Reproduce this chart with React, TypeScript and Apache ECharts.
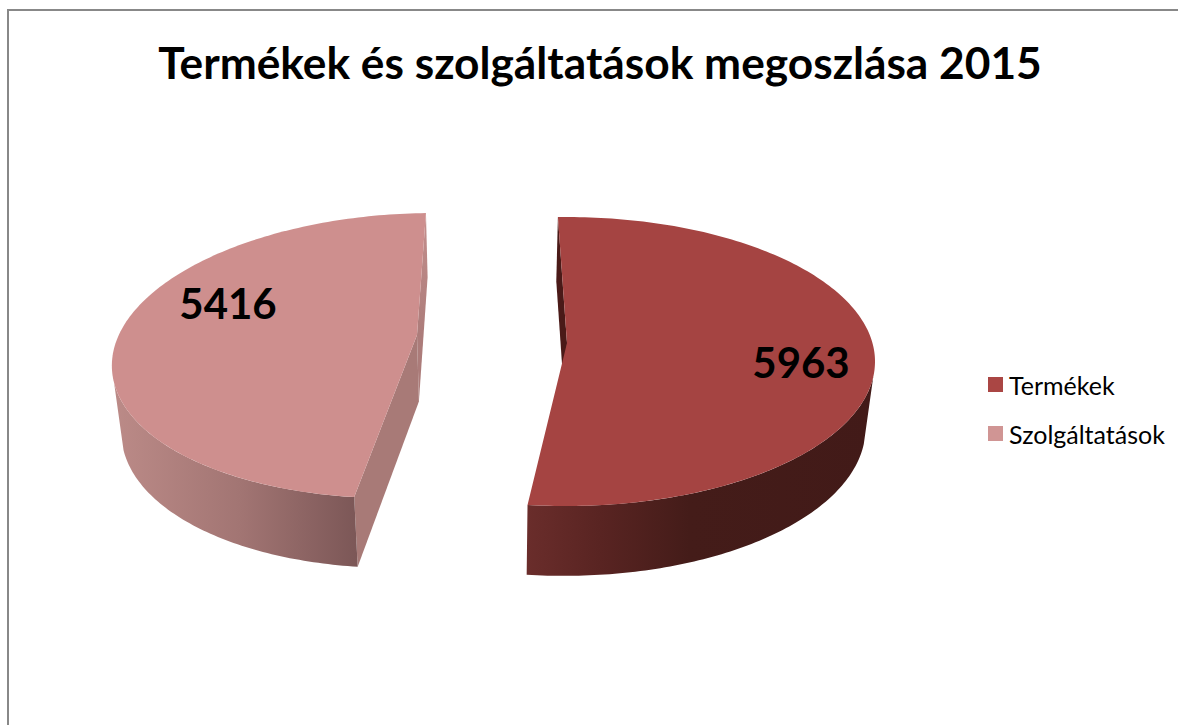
import React, { useEffect, useRef } from "react";
import * as echarts from "echarts";

const titleText = "Termékek és szolgáltatások megoszlása 2015";
const categories = ["Termékek", "Szolgáltatások"];
const values = [5963, 5416];
const legendColors = ["#AA4644", "#D09594"];
const firstAngle = -1.5;

const FONT = "Lato";
const VANISH_X = 493;
type Pt = [number, number];

const lower = ([x, y]: Pt): Pt => [VANISH_X + (x - VANISH_X) * 0.975, y + 64 + (y - 213) * 0.02];

const shapes = [
  {
    cx: 566, cy: 361.5, rx: 309, ry: 144.5, skew: 0, apex: [567, 343] as Pt,
    top: "#A54442", label: [801, 362] as Pt,
    wall: [[527, "#6A2D2B"], [600, "#592422"], [690, "#441C19"], [875, "#421A18"]] as [number, string][],
  },
  {
    cx: 412.6, cy: 355.6, rx: 300, ry: 142.6, skew: 21.2, apex: [417, 335] as Pt,
    top: "#CE8F8E", label: [228, 303] as Pt,
    wall: [[111, "#BC8B88"], [240, "#A27573"], [356, "#7C5757"]] as [number, string][],
  },
];

function sliceAngles(i: number): [number, number] {
  const total = values.reduce((a, b) => a + b, 0);
  let a = firstAngle;
  for (let k = 0; k < i; k++) a += (values[k] / total) * 360;
  return [a, a + (values[i] / total) * 360];
}

function renderSlice(params: any, api: any) {
  const i = params.seriesIndex as number;
  const s = shapes[i];
  const [a0, a1] = sliceAngles(i);
  const rim = (deg: number): Pt => {
    const t = (deg * Math.PI) / 180;
    return [s.cx + s.rx * Math.sin(t) + s.skew * Math.cos(t), s.cy - s.ry * Math.cos(t)];
  };
  const arc = (from: number, to: number): Pt[] => {
    const n = Math.ceil(Math.abs(to - from));
    const out: Pt[] = [];
    for (let k = 0; k <= n; k++) out.push(rim(from + ((to - from) * k) / n));
    return out;
  };
  const x0 = s.wall[0][0];
  const x1 = s.wall[s.wall.length - 1][0];
  const grad = new echarts.graphic.LinearGradient(
    x0, 0, x1, 0,
    s.wall.map(([x, color]) => ({ offset: (x - x0) / (x1 - x0), color })),
    true,
  );
  const children: any[] = [];
  const poly = (points: Pt[], fill: any) =>
    children.push({ type: "polygon", shape: { points }, style: { fill }, silent: true });

  if (i === 0) {
    const p0 = rim(a0);
    poly([p0, s.apex, lower(s.apex), lower(p0)], "#4A1A18");
    const a = arc(96, a1);
    poly([...a, ...a.slice().reverse().map(lower)], grad);
  } else {
    const pEnd = rim(a1);
    const pFront = rim(a0);
    poly([pEnd, s.apex, lower(s.apex), lower(pEnd)],
      new echarts.graphic.LinearGradient(0, pEnd[1], 0, 335, [
        { offset: 0, color: "#C48F8D" }, { offset: 1, color: "#AC7C7A" },
      ], true));
    poly([s.apex, pFront, lower(pFront), lower(s.apex)], "#A87A77");
    const a = arc(a0, 259);
    poly([...a, ...a.slice().reverse().map(lower)], grad);
  }
  poly([s.apex, ...arc(a0, a1)], s.top);
  children.push({
    type: "text", x: s.label[0], y: s.label[1], z2: 10,
    style: {
      text: String(api.value(0)), fontFamily: FONT, fontWeight: "bold", fontSize: 42,
      fill: "#000", align: "center", verticalAlign: "middle",
    },
  });
  return { type: "group", children };
}

export default function App() {
  const ref = useRef<HTMLDivElement>(null);
  useEffect(() => {
    const chart = echarts.init(ref.current!, null, { renderer: "svg" });
    chart.setOption({
      animation: false,
      backgroundColor: "#ffffff",
      title: {
        text: titleText, left: 595, top: 34, textAlign: "center",
        textStyle: { fontFamily: FONT, fontWeight: "bold", fontSize: 44.25, color: "#000" },
      },
      legend: {
        orient: "vertical", left: 988, top: 372, padding: 0,
        itemWidth: 15, itemHeight: 15, itemGap: 24, icon: "rect",
        textStyle: { fontFamily: FONT, fontSize: 25, color: "#000", padding: [0, 0, 0, 1] },
        data: categories.map((name, i) => ({ name, itemStyle: { color: legendColors[i] } })),
      },
      graphic: [{
        type: "polyline", silent: true,
        shape: { points: [[8, 725], [8, 10], [1178, 10]] },
        style: { stroke: "#888888", lineWidth: 2, fill: "none" },
      }],
      series: categories.map((name, i) => ({
        type: "custom", name, coordinateSystem: "none",
        itemStyle: { color: legendColors[i] },
        renderItem: renderSlice,
        data: [values[i]],
      })),
    });
    return () => chart.dispose();
  }, []);
  return <div ref={ref} style={{ position: "fixed", left: 0, top: 0, width: 1178, height: 725 }} />;
}
